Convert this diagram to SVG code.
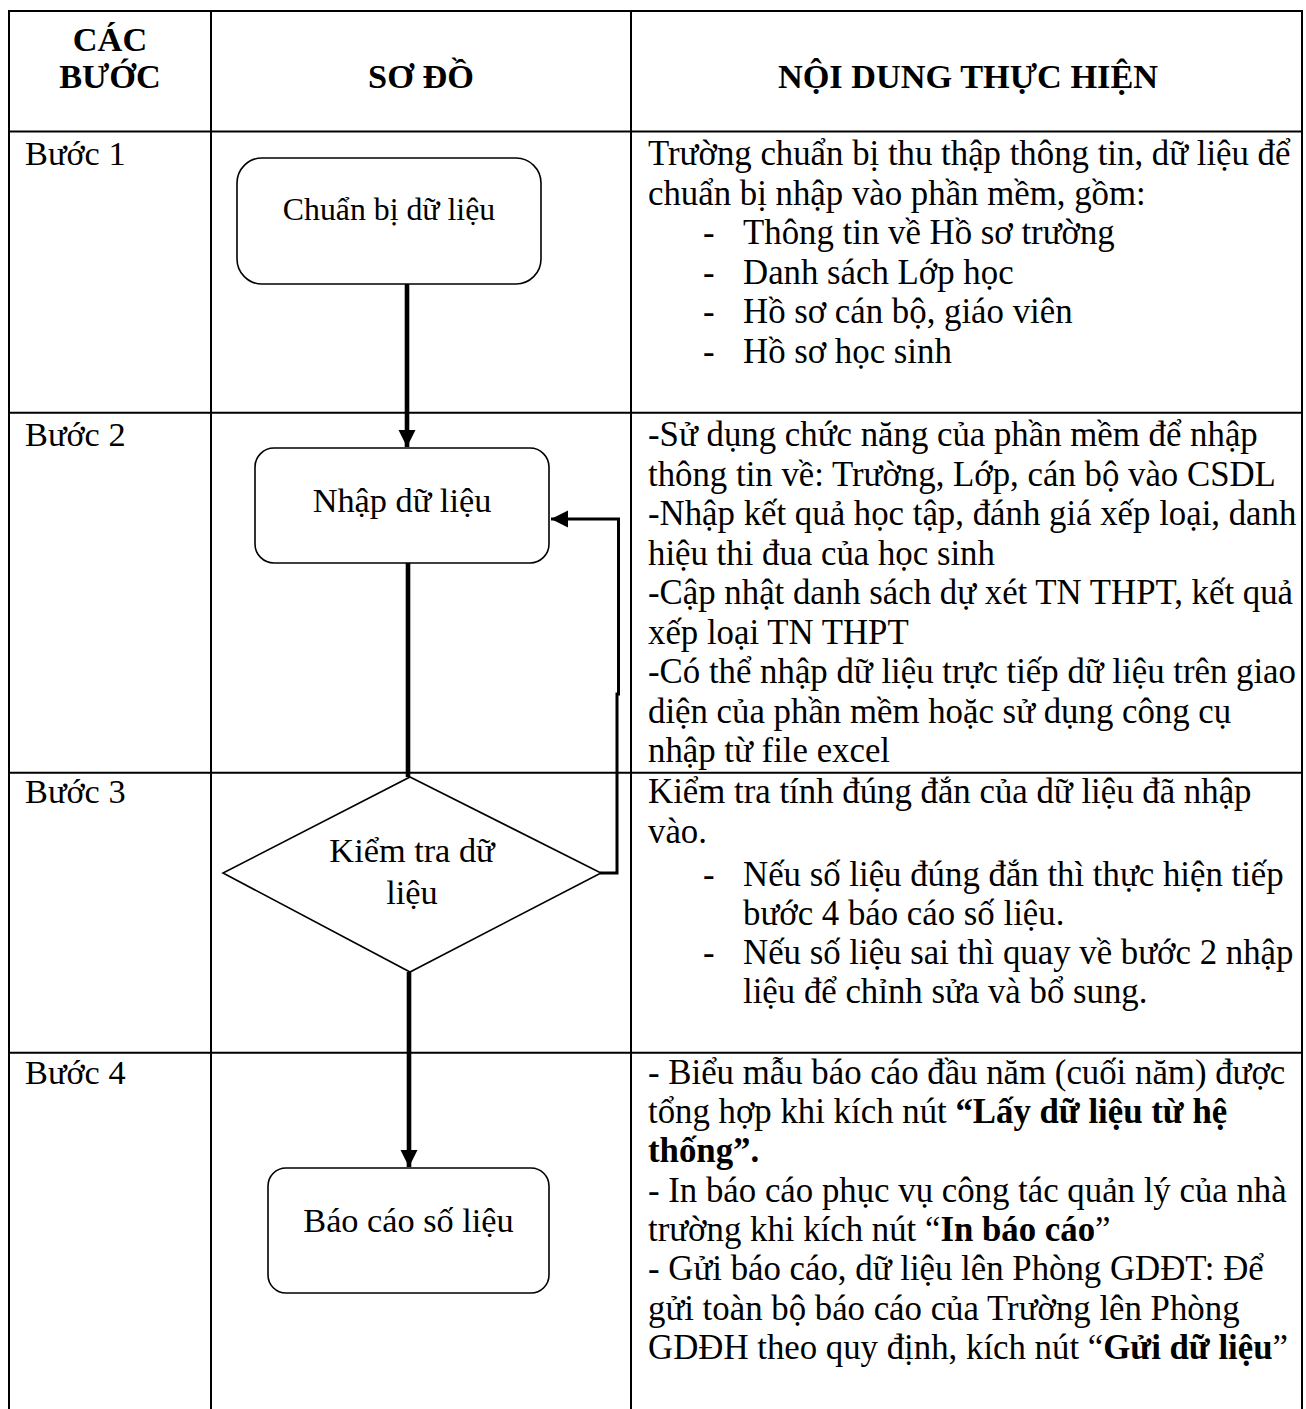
<svg xmlns="http://www.w3.org/2000/svg" width="1306" height="1409" viewBox="0 0 1306 1409">
<style>
text{font-family:"Liberation Serif","Times New Roman",serif;font-size:34.3px;fill:#000}
.t text{font-size:34.8px}
.b{font-weight:bold}
.c{text-anchor:middle}
.grid{stroke:#000;stroke-width:2;fill:none}
.node{fill:#fff;stroke:#000;stroke-width:1.6}
.main{stroke:#000;stroke-width:4.6;fill:none}
.fb{stroke:#000;stroke-width:3;fill:none}
</style>
<defs>
<marker id="ah" viewBox="0 0 10 10" refX="10" refY="5" markerUnits="userSpaceOnUse" markerWidth="17" markerHeight="18" orient="auto">
<path d="M0,0 L10,5 L0,10 Z" fill="#000"/>
</marker>
</defs>
<rect width="1306" height="1409" fill="#fff"/>
<g id="table">
<line class="grid" x1="8" y1="11" x2="1303" y2="11"/>
<line class="grid" x1="8" y1="131.5" x2="1303" y2="131.5"/>
<line class="grid" x1="8" y1="412.7" x2="1303" y2="412.7"/>
<line class="grid" x1="8" y1="772.7" x2="1303" y2="772.7"/>
<line class="grid" x1="8" y1="1052.7" x2="1303" y2="1052.7"/>
<line class="grid" x1="9" y1="10" x2="9" y2="1409"/>
<line class="grid" x1="211" y1="10" x2="211" y2="1409"/>
<line class="grid" x1="631" y1="10" x2="631" y2="1409"/>
<line class="grid" x1="1302" y1="10" x2="1302" y2="1409"/>
</g>
<g id="header">
<text class="b c" x="110" y="51">CÁC</text>
<text class="b c" x="110" y="88">BƯỚC</text>
<text class="b c" x="421" y="88">SƠ ĐỒ</text>
<text class="b c" x="968" y="88">NỘI DUNG THỰC HIỆN</text>
</g>
<g id="steps">
<text x="25" y="165">Bước 1</text>
<text x="25" y="446">Bước 2</text>
<text x="25" y="803">Bước 3</text>
<text x="25" y="1084">Bước 4</text>
</g>
<g id="connectors">
<line class="main" x1="407" y1="284" x2="407" y2="447" marker-end="url(#ah)"/>
<line class="main" x1="408" y1="563" x2="408" y2="777"/>
<line class="main" x1="409" y1="972" x2="409" y2="1167" marker-end="url(#ah)"/>
<polyline class="fb" points="600,873 617,873 617,694 618.5,694 618.5,519 551,519" marker-end="url(#ah)"/>
</g>
<g id="node-chuan-bi">
<rect class="node" x="237" y="158" width="304" height="126" rx="25"/>
<text class="c" x="389" y="220" style="font-size:31.8px">Chuẩn bị dữ liệu</text>
</g>
<g id="node-nhap">
<rect class="node" x="255" y="448" width="294" height="115" rx="19"/>
<text class="c" x="402" y="512">Nhập dữ liệu</text>
</g>
<g id="node-kiem-tra">
<polygon class="node" points="410,777 601,873 410,972 223,873"/>
<text class="c" x="412" y="862">Kiểm tra dữ</text>
<text class="c" x="412" y="904">liệu</text>
</g>
<g id="node-bao-cao">
<rect class="node" x="268" y="1168" width="281" height="125" rx="18"/>
<text class="c" x="408.5" y="1232">Báo cáo số liệu</text>
</g>
<g id="content-1" class="t">
<text x="648" y="165">Trường chuẩn bị thu thập thông tin, dữ liệu để</text>
<text x="648" y="204.5">chuẩn bị nhập vào phần mềm, gồm:</text>
<text x="703" y="244">-</text><text x="743" y="244">Thông tin về Hồ sơ trường</text>
<text x="703" y="283.5">-</text><text x="743" y="283.5">Danh sách Lớp học</text>
<text x="703" y="323">-</text><text x="743" y="323">Hồ sơ cán bộ, giáo viên</text>
<text x="703" y="362.5">-</text><text x="743" y="362.5">Hồ sơ học sinh</text>
</g>
<g id="content-2" class="t">
<text x="648" y="446">-Sử dụng chức năng của phần mềm để nhập</text>
<text x="648" y="485.5">thông tin về: Trường, Lớp, cán bộ vào CSDL</text>
<text x="648" y="525">-Nhập kết quả học tập, đánh giá xếp loại, danh</text>
<text x="648" y="564.5">hiệu thi đua của học sinh</text>
<text x="648" y="604">-Cập nhật danh sách dự xét TN THPT, kết quả</text>
<text x="648" y="643.5">xếp loại TN THPT</text>
<text x="648" y="683">-Có thể nhập dữ liệu trực tiếp dữ liệu trên giao</text>
<text x="648" y="722.5">diện của phần mềm hoặc sử dụng công cụ</text>
<text x="648" y="762">nhập từ file excel</text>
</g>
<g id="content-3" class="t">
<text x="648" y="803">Kiểm tra tính đúng đắn của dữ liệu đã nhập</text>
<text x="648" y="843">vào.</text>
<text x="703" y="886">-</text><text x="743" y="886">Nếu số liệu đúng đắn thì thực hiện tiếp</text>
<text x="743" y="925">bước 4 báo cáo số liệu.</text>
<text x="703" y="964">-</text><text x="743" y="964">Nếu số liệu sai thì quay về bước 2 nhập</text>
<text x="743" y="1003">liệu để chỉnh sửa và bổ sung.</text>
</g>
<g id="content-4" class="t">
<text x="648" y="1084">- Biểu mẫu báo cáo đầu năm (cuối năm) được</text>
<text x="648" y="1123">tổng hợp khi kích nút <tspan class="b">“Lấy dữ liệu từ hệ</tspan></text>
<text x="648" y="1162" class="b">thống”.</text>
<text x="648" y="1202">- In báo cáo phục vụ công tác quản lý của nhà</text>
<text x="648" y="1241">trường khi kích nút “<tspan class="b">In báo cáo</tspan>”</text>
<text x="648" y="1280">- Gửi báo cáo, dữ liệu lên Phòng GDĐT: Để</text>
<text x="648" y="1320">gửi toàn bộ báo cáo của Trường lên Phòng</text>
<text x="648" y="1359">GDĐH theo quy định, kích nút “<tspan class="b">Gửi dữ liệu</tspan>”</text>
</g>
</svg>
